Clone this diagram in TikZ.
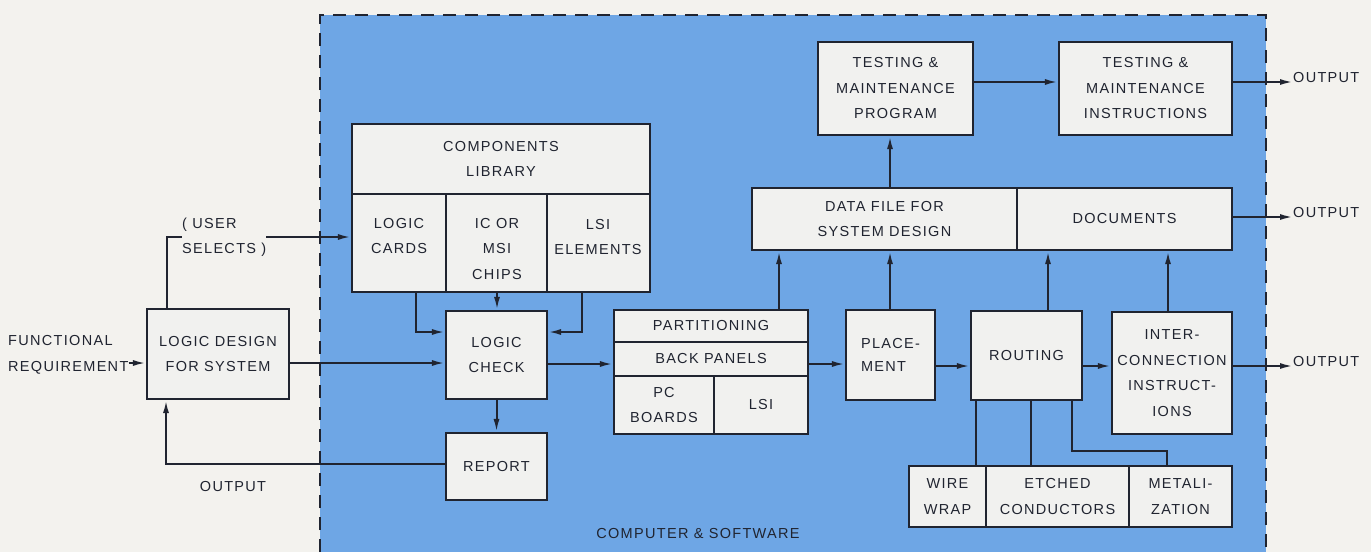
\documentclass[tikz,border=0pt]{standalone}
\usepackage{fontspec}
\setmainfont{Liberation Sans}[LetterSpace=9]
\usetikzlibrary{arrows.meta,calc}
\definecolor{paper}{RGB}{243,242,238}
\definecolor{panel}{RGB}{110,166,229}
\definecolor{boxfill}{RGB}{241,241,239}
\definecolor{ink}{RGB}{32,36,48}
\newcommand\dlbl{\fontsize{14.5}{25.5}\selectfont}
\tikzset{
  box/.style={draw=ink, line width=2.2pt, fill=boxfill, inner sep=0pt, align=center, font=\dlbl, text=ink},
  lbl/.style={align=center, text=ink, font=\dlbl, inner sep=0pt},
  wire/.style={draw=ink, line width=2pt},
  arr/.style={wire, -{Latex[length=13pt,width=6pt]}},
  border/.style={draw=ink, line width=1.8pt, dash pattern=on 13pt off 9pt},
}
\newcommand\bx[6]{\node[box,minimum width={(#4)-(#2)},minimum height={(#5)-(#3)}] (#1) at ({((#2)+(#4))/2},{((#3)+(#5))/2}) {#6};}
\begin{document}
\begin{tikzpicture}[x=1pt,y=-1pt]
\useasboundingbox (0,0) rectangle (1371,552);
\fill[paper] (0,0) rectangle (1371,552);
\fill[panel] (320,15) rectangle (1266,552);
\draw[border] (320,552) -- (320,15) -- (1266,15) -- (1266,552);

% left outside
\node[lbl, align=left, anchor=west] (fr) at (8,355) {FUNCTIONAL\\REQUIREMENT};
\bx{ld}{147}{309}{289}{399}{LOGIC DESIGN\\FOR SYSTEM}
\node[lbl, align=left, anchor=west] (us) at (182,237) {( USER\\SELECTS )};
\node[lbl] (o0) at (233,487) {OUTPUT};

% components library
\bx{lib}{352}{124}{650}{194}{COMPONENTS\\LIBRARY}
\bx{cards}{352}{194}{446}{292}{}
\bx{icor}{446}{194}{547}{292}{}
\bx{lsie}{547}{194}{650}{292}{}
\node[lbl] (tcards) at (399,236) {LOGIC\\CARDS};
\node[lbl] (ticor) at (497,249) {IC OR\\MSI\\CHIPS};
\node[lbl] (tlsie) at (598,237) {LSI\\ELEMENTS};

\bx{lc}{446}{311}{547}{399}{LOGIC\\CHECK}
\bx{rep}{446}{433}{547}{500}{REPORT}

% partitioning
\bx{part}{614}{310}{808}{342}{PARTITIONING}
\bx{bp}{614}{342}{808}{376}{BACK PANELS}
\bx{pcb}{614}{376}{714}{434}{PC\\BOARDS}
\bx{plsi}{714}{376}{808}{434}{LSI}

\bx{pl}{846}{310}{935}{400}{\begin{tabular}{@{}l@{}}PLACE-\\[-3pt]MENT\end{tabular}}
\bx{rt}{971}{311}{1082}{400}{ROUTING}
\bx{ic}{1112}{312}{1232}{434}{INTER-\\CONNECTION\\INSTRUCT-\\IONS}

\bx{ww}{909}{466}{986}{527}{WIRE\\WRAP}
\bx{et}{986}{466}{1129}{527}{ETCHED\\CONDUCTORS}
\bx{mt}{1129}{466}{1232}{527}{METALI-\\ZATION}

\bx{df}{752}{188}{1017}{250}{DATA FILE FOR\\SYSTEM DESIGN}
\bx{doc}{1017}{188}{1232}{250}{DOCUMENTS}

\bx{tp}{818}{42}{973}{135}{TESTING \&\\MAINTENANCE\\PROGRAM}
\bx{ti}{1059}{42}{1232}{135}{TESTING \&\\MAINTENANCE\\INSTRUCTIONS}

\node[lbl, anchor=base west] (o1) at (1293,82) {OUTPUT};
\node[lbl, anchor=base west] (o2) at (1293,217) {OUTPUT};
\node[lbl, anchor=base west] (o3) at (1293,366) {OUTPUT};

\node[lbl] (cs) at (698,534) {COMPUTER \& SOFTWARE};

% connectors
\draw[arr] (fr.east |- 0,363) -- (ld.west |- 0,363);
\draw[wire] (167,0 |- ld.north) |- (us.west);
\draw[arr] (us.east) -- (us.east -| cards.west);
\draw[arr] (ld.east |- 0,363) -- (lc.west |- 0,363);
\draw[arr] (416,0 |- cards.south) |- (lc.west |- 0,332);
\draw[arr] (497,0 |- icor.south) -- (497,0 |- lc.north);
\draw[arr] (582,0 |- lsie.south) |- (lc.east |- 0,332);
\draw[arr] (lc.south) -- (rep.north);
\draw[arr] (rep.west |- 0,464) -| (166,0 |- ld.south);
\draw[arr] (lc.east |- 0,364) -- (bp.west |- 0,364);
\draw[arr] (779,0 |- part.north) -- (779,0 |- df.south);
\draw[arr] (bp.east |- 0,364) -- (pl.west |- 0,364);
\draw[arr] (890,0 |- pl.north) -- (890,0 |- df.south);
\draw[arr] (pl.east |- 0,366) -- (rt.west |- 0,366);
\draw[arr] (1048,0 |- rt.north) -- (1048,0 |- doc.south);
\draw[arr] (rt.east |- 0,366) -- (ic.west |- 0,366);
\draw[arr] (1168,0 |- ic.north) -- (1168,0 |- doc.south);
\draw[arr] (ic.east |- 0,366) -- (o3.base west);
\draw[arr] (doc.east |- 0,217) -- (o2.base west);
\draw[arr] (890,0 |- df.north) -- (890,0 |- tp.south);
\draw[arr] (tp.east |- 0,82) -- (ti.west |- 0,82);
\draw[arr] (ti.east |- 0,82) -- (o1.base west);
\draw[wire] (976,0 |- rt.south) -- (976,0 |- ww.north);
\draw[wire] (1031,0 |- rt.south) -- (1031,0 |- et.north);
\draw[wire] (1072,0 |- rt.south) -- (1072,451) -| (1167,0 |- mt.north);
\end{tikzpicture}
\end{document}
